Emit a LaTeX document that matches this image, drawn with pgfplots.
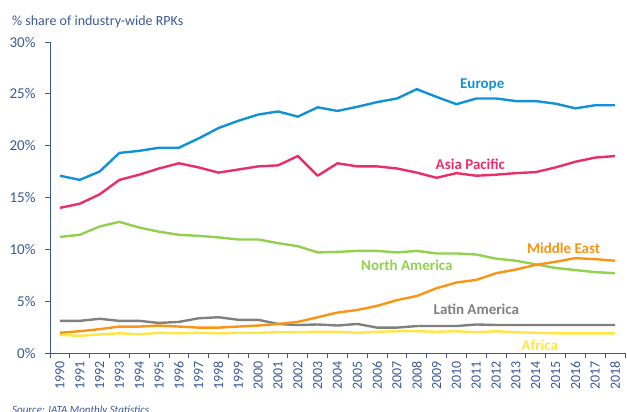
\documentclass[border=0pt]{standalone}
\usepackage{pgfplots}
\pgfplotsset{compat=1.18}
\usepackage{pgfplotstable}
\usepackage{fontspec}
\setmainfont{Carlito}

\definecolor{axisblue}{RGB}{59,89,152}
\definecolor{cEurope}{RGB}{18,146,214}
\definecolor{cAsia}{RGB}{234,46,104}
\definecolor{cNA}{RGB}{146,208,80}
\definecolor{cME}{RGB}{250,148,20}
\definecolor{cLA}{RGB}{128,128,128}
\definecolor{cAF}{RGB}{255,230,70}

% share of RPKs by region
\pgfplotstableread{
year europe asia namer meast latam africa
1990 17.1 14.0 11.2 1.95 3.1 1.75
1991 16.7 14.4 11.4 2.1 3.1 1.65
1992 17.5 15.3 12.2 2.3 3.3 1.8
1993 19.3 16.7 12.65 2.55 3.1 1.9
1994 19.5 17.2 12.1 2.55 3.1 1.8
1995 19.8 17.8 11.7 2.65 2.9 1.95
1996 19.8 18.3 11.4 2.55 3.0 1.9
1997 20.7 17.9 11.3 2.45 3.35 1.95
1998 21.7 17.4 11.15 2.45 3.45 1.9
1999 22.4 17.7 10.95 2.55 3.2 1.95
2000 23.0 18.0 10.95 2.65 3.2 1.95
2001 23.3 18.1 10.6 2.8 2.8 2.0
2002 22.8 19.0 10.3 3.0 2.7 2.0
2003 23.7 17.1 9.7 3.45 2.75 2.05
2004 23.35 18.3 9.75 3.9 2.65 2.05
2005 23.75 18.0 9.85 4.15 2.8 1.95
2006 24.2 18.0 9.85 4.55 2.45 2.05
2007 24.55 17.8 9.7 5.1 2.45 2.1
2008 25.45 17.4 9.85 5.5 2.6 2.1
2009 24.7 16.9 9.6 6.25 2.6 2.05
2010 24.0 17.35 9.6 6.8 2.6 2.1
2011 24.55 17.1 9.5 7.05 2.75 2.0
2012 24.55 17.2 9.1 7.7 2.7 2.1
2013 24.3 17.35 8.9 8.05 2.7 2.0
2014 24.3 17.45 8.55 8.5 2.7 1.95
2015 24.05 17.9 8.2 8.8 2.7 1.9
2016 23.6 18.45 8.0 9.15 2.7 1.9
2017 23.9 18.85 7.8 9.05 2.7 1.9
2018 23.9 19.0 7.7 8.9 2.7 1.9
}\rpk

\begin{document}
\begin{tikzpicture}[x=1pt,y=1pt]
\path[use as bounding box] (0,0) rectangle (627,412);

\begin{axis}[
    at={(50pt,59pt)}, anchor=south west,
    scale only axis,
    width=575pt, height=311pt,
    xmin=1989.5, xmax=2018.5,
    ymin=0, ymax=30,
    axis x line*=bottom, axis y line*=left,
    axis line style={axisblue, line width=0.9pt, -},
    every tick/.style={axisblue, line width=0.9pt},
    tick align=outside,
    xtick={1990,...,2018},
    major x tick style={draw=none},
    minor xtick={1989.5,1990.5,...,2018.5},
    minor tick length=5pt,
    ytick={0,5,...,30},
    major tick length=5pt,
    yticklabels={0\%,5\%,10\%,15\%,20\%,25\%,30\%},
    xticklabel style={rotate=90, anchor=east, font=\fontsize{14}{14}\selectfont, text=axisblue,
        /pgf/number format/1000 sep={}, /pgf/number format/assume math mode=true},
    yticklabel style={font=\fontsize{15}{15}\selectfont, text=axisblue, xshift=-6pt},
    clip=false,
    every axis plot/.style={line width=2.4pt, line join=round, no markers},
]
\addplot[cAF] table[x=year,y=africa] {\rpk};
\addplot[cLA] table[x=year,y=latam] {\rpk};
\addplot[cNA] table[x=year,y=namer] {\rpk};
\addplot[cME] table[x=year,y=meast] {\rpk};
\addplot[cAsia] table[x=year,y=asia] {\rpk};
\addplot[cEurope] table[x=year,y=europe] {\rpk};

\begin{scope}[every node/.style={font=\bfseries\fontsize{15}{15}\selectfont}]
\node[text=cEurope] at (axis cs:2011.3,25.85) {Europe};
\node[text=cAsia] at (axis cs:2010.7,18.2) {Asia Pacific};
\node[text=cNA] at (axis cs:2007.5,8.44) {North America};
\node[text=cME] at (axis cs:2015.4,10.1) {Middle East};
\node[text=cLA] at (axis cs:2011.0,4.24) {Latin America};
\node[text=cAF] at (axis cs:2014.2,0.77) {Africa};
\end{scope}
\end{axis}

\node[anchor=base west, text=axisblue, font=\fontsize{14}{14}\selectfont, inner sep=0pt] at (12,386) {\% share of industry-wide RPKs};
\node[anchor=base west, text=axisblue, font=\itshape\fontsize{11}{11}\selectfont, inner sep=0pt] at (12,-2) {Source: IATA Monthly Statistics};
\end{tikzpicture}
\end{document}
